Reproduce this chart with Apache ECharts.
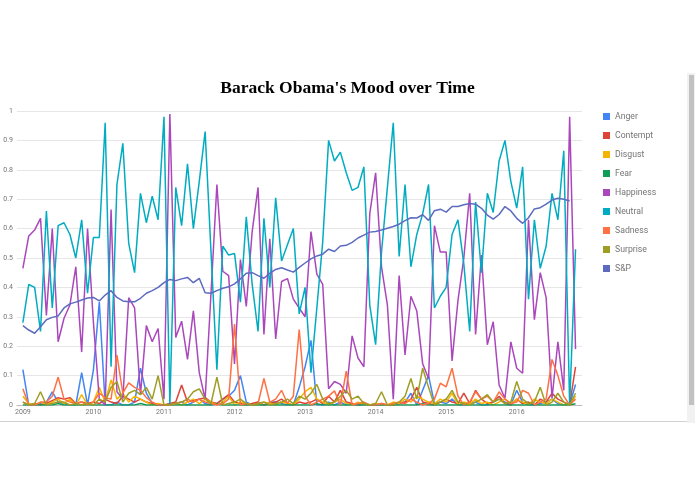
<!DOCTYPE html>
<html><head><meta charset="utf-8">
<script src="https://cdn.jsdelivr.net/npm/echarts@6/dist/echarts.min.js"></script>
<style>html,body{margin:0;padding:0;background:#fff;overflow:hidden}#c{width:695px;height:494px}</style>
</head><body><div id="c"></div>
<script>
const months = [
 '2009-01','2009-02','2009-03','2009-04','2009-05','2009-06','2009-07','2009-08','2009-09','2009-10','2009-11','2009-12',
 '2010-01','2010-02','2010-03','2010-04','2010-05','2010-06','2010-07','2010-08','2010-09','2010-10','2010-11','2010-12',
 '2011-01','2011-02','2011-03','2011-04','2011-05','2011-06','2011-07','2011-08','2011-09','2011-10','2011-11','2011-12',
 '2012-01','2012-02','2012-03','2012-04','2012-05','2012-06','2012-07','2012-08','2012-09','2012-10','2012-11','2012-12',
 '2013-01','2013-02','2013-03','2013-04','2013-05','2013-06','2013-07','2013-08','2013-09','2013-10','2013-11','2013-12',
 '2014-01','2014-02','2014-03','2014-04','2014-05','2014-06','2014-07','2014-08','2014-09','2014-10','2014-11','2014-12',
 '2015-01','2015-02','2015-03','2015-04','2015-05','2015-06','2015-07','2015-08','2015-09','2015-10','2015-11','2015-12',
 '2016-01','2016-02','2016-03','2016-04','2016-05','2016-06','2016-07','2016-08','2016-09','2016-10','2016-11'
];
const yearTicks = ['2009','2010','2011','2012','2013','2014','2015','2016'];
const seriesNames = ['Anger','Contempt','Disgust','Fear','Happiness','Neutral','Sadness','Surprise','S&P'];

const anger = [
 0.12,0,0,0.005,0.01,0.045,0.01,0.005,0,0,0.11,0,
 0.12,0.35,0,0,0.01,0,0,0.01,0.125,0.04,0.005,0,
 0,0,0.005,0.01,0,0.01,0.02,0.005,0,0.005,0.02,0.03,
 0.05,0.10,0.01,0,0.005,0,0.01,0.01,0.005,0,0,0.06,
 0.13,0.22,0,0,0.01,0,0.01,0,0.005,0,0,0,
 0,0,0,0,0.005,0.01,0.04,0,0.05,0.10,0.005,0.01,
 0.005,0.02,0,0,0.005,0.01,0,0,0.01,0.02,0.01,0,
 0.05,0.01,0,0,0.005,0.01,0.02,0.005,0,0,0.07
];
const contempt = [
 0.01,0,0.005,0,0.005,0.015,0.025,0.02,0.025,0.005,0.01,0.005,
 0.01,0.005,0.02,0.01,0.005,0.03,0.02,0.01,0.02,0.01,0.005,0,
 0,0.005,0.01,0.068,0.01,0.015,0.02,0.025,0.01,0.005,0.02,0.035,
 0.01,0.005,0,0.005,0.01,0,0.005,0.01,0.02,0.005,0,0.01,
 0.005,0.01,0.02,0.005,0.03,0.01,0.05,0.01,0.005,0,0.005,0,
 0,0.005,0,0,0.005,0.01,0.02,0.06,0.01,0.005,0,0.01,
 0.02,0.01,0.005,0.04,0.005,0.05,0.02,0.005,0.01,0.03,0.005,0,
 0.02,0.005,0.01,0,0.02,0.01,0.04,0.02,0.01,0,0.13
];
const disgust = [
 0.03,0.005,0,0.01,0,0.01,0.02,0.005,0.02,0,0.035,0,
 0.01,0.06,0.01,0.085,0.02,0.04,0.01,0.03,0.02,0.01,0,0.005,
 0,0,0.005,0,0.01,0.02,0.005,0.02,0.01,0,0.01,0.03,
 0,0.01,0.005,0,0,0.01,0.005,0,0.01,0.005,0,0.02,
 0.045,0.06,0.02,0.01,0,0.01,0.02,0.005,0,0.01,0,0,
 0.005,0,0,0.01,0.005,0.02,0.01,0.03,0.02,0.01,0.005,0.02,
 0.01,0.04,0,0.01,0.005,0.02,0.005,0.01,0,0.01,0.02,0.005,
 0.02,0.01,0,0.02,0.01,0.005,0.02,0.01,0,0,0.03
];
const fear = [
 0,0,0,0,0,0,0.005,0,0,0,0,0,
 0,0,0,0,0,0,0,0,0.005,0,0,0,
 0,0,0,0,0,0,0,0,0,0.003,0,0,
 0,0,0,0,0,0,0,0,0,0,0,0,
 0,0,0.004,0,0,0,0,0,0,0,0,0,
 0,0,0,0,0,0,0,0,0.004,0,0,0,
 0,0,0,0,0,0,0,0,0,0,0,0,
 0,0,0,0,0,0,0,0,0,0,0.004
];
const happiness = [
 0.465,0.575,0.595,0.635,0.305,0.60,0.215,0.295,0.34,0.47,0.18,0.60,
 0.28,0.02,0.0,0.665,0.045,0.02,0.365,0.33,0.035,0.27,0.215,0.26,
 0.02,0.99,0.23,0.285,0.155,0.32,0.11,0.02,0.38,0.75,0.455,0.44,
 0.14,0.495,0.335,0.59,0.74,0.24,0.565,0.225,0.42,0.43,0.36,0.33,
 0.30,0.59,0.445,0.41,0.055,0.08,0.07,0.04,0.235,0.16,0.13,0.65,
 0.79,0.47,0.34,0.02,0.44,0.17,0.37,0.32,0.14,0.09,0.61,0.52,
 0.52,0.15,0.355,0.50,0.72,0.24,0.51,0.205,0.283,0.068,0.023,0.215,
 0.125,0.108,0.63,0.29,0.45,0.365,0.023,0.215,0.05,0.98,0.19
];
const neutral = [
 0.28,0.41,0.40,0.25,0.66,0.33,0.61,0.62,0.58,0.50,0.63,0.38,
 0.57,0.57,0.96,0.13,0.75,0.89,0.55,0.45,0.72,0.62,0.71,0.63,
 0.98,0.0,0.74,0.61,0.82,0.60,0.76,0.93,0.52,0.12,0.54,0.51,
 0.515,0.35,0.64,0.41,0.25,0.635,0.40,0.705,0.49,0.545,0.60,0.31,
 0.40,0.11,0.33,0.555,0.90,0.83,0.86,0.79,0.73,0.74,0.81,0.34,
 0.205,0.52,0.74,0.96,0.505,0.75,0.47,0.58,0.65,0.75,0.33,0.37,
 0.40,0.58,0.63,0.48,0.25,0.69,0.45,0.72,0.655,0.83,0.90,0.76,
 0.67,0.81,0.36,0.63,0.465,0.54,0.72,0.63,0.865,0.0,0.53
];
const sadness = [
 0.055,0,0,0.01,0.01,0.03,0.095,0.02,0.01,0.005,0.01,0,
 0.01,0.04,0.025,0.02,0.17,0.04,0.075,0.06,0.05,0.025,0.01,0,
 0,0,0.005,0.01,0.02,0.01,0.02,0.01,0.005,0,0.005,0.02,
 0.275,0,0.005,0,0.005,0.09,0.01,0.02,0.05,0.005,0.03,0.257,
 0.03,0,0.01,0.02,0.03,0.048,0,0.115,0,0.005,0.01,0,
 0,0.005,0,0.005,0.01,0.005,0.02,0.01,0,0.005,0.02,0.074,
 0.062,0.125,0.03,0,0.01,0.045,0.02,0.03,0.01,0.045,0.02,0.005,
 0.01,0.05,0.04,0,0.01,0.02,0.155,0.10,0.03,0,0.02
];
const surprise = [
 0.01,0,0.005,0.045,0,0.005,0.01,0.01,0,0.005,0,0.005,
 0,0.02,0.01,0.06,0.08,0.01,0.04,0.05,0.035,0.06,0.02,0.10,
 0,0,0.005,0.01,0.02,0.045,0.055,0.02,0.005,0.095,0,0.005,
 0.01,0.02,0.005,0,0.005,0.01,0,0.005,0.01,0.02,0.005,0.03,
 0.02,0.04,0.07,0.02,0.005,0.01,0.03,0.05,0.02,0.03,0.005,0,
 0.005,0.045,0,0,0.01,0.03,0.09,0.02,0.125,0.06,0,0.01,
 0.02,0.05,0.01,0.005,0,0.01,0.02,0.035,0.01,0.02,0.005,0.01,
 0.08,0.02,0.005,0.01,0.06,0,0.01,0.04,0.01,0,0.04
];
const sp = [
 0.27,0.255,0.244,0.266,0.29,0.298,0.303,0.33,0.344,0.35,0.357,0.364,
 0.366,0.354,0.374,0.389,0.366,0.354,0.351,0.351,0.363,0.38,0.389,0.40,
 0.416,0.427,0.423,0.429,0.434,0.416,0.431,0.382,0.38,0.389,0.397,0.402,
 0.412,0.429,0.448,0.45,0.44,0.431,0.448,0.461,0.467,0.459,0.452,0.468,
 0.483,0.497,0.507,0.513,0.53,0.522,0.541,0.543,0.553,0.568,0.578,0.588,
 0.59,0.595,0.601,0.607,0.615,0.627,0.637,0.636,0.647,0.628,0.661,0.666,
 0.656,0.675,0.675,0.681,0.685,0.683,0.669,0.646,0.632,0.648,0.675,0.66,
 0.635,0.618,0.637,0.667,0.671,0.683,0.697,0.703,0.70,0.694,null
];
const colors = ['#4285f4','#db4437','#f4b400','#0f9d58','#ab47bc','#00acc1','#ff7043','#9e9d24','#5c6bc0'];
const values = [anger, contempt, disgust, fear, happiness, neutral, sadness, surprise, sp];

// month string -> months since Jan 2009
function mIdx(s){ const p = s.split('-'); return (+p[0]-2009)*12 + (+p[1]-1); }
const tickPos = yearTicks.map(y => mIdx(y + '-01'));

const chart = echarts.init(document.getElementById('c'), null, {renderer:'canvas'});
chart.setOption({
  animation: false,
  backgroundColor: '#fff',
  color: colors,
  title: {
    text: "Barack Obama's Mood over Time",
    left: 'center', top: 74,
    textStyle: {fontFamily: '"Liberation Serif","Times New Roman",serif', fontWeight: 'bold', fontSize: 17.5, color: '#000'}
  },
  legend: {
    orient: 'vertical', left: 598, top: 106,
    itemWidth: 7, itemHeight: 7, itemGap: 8, icon: 'rect',
    data: seriesNames,
    textStyle: {fontFamily: 'Roboto, sans-serif', fontSize: 8.7, color: '#757575', lineHeight: 11, padding: [0,0,0,0]},
  },
  grid: {left: 17, top: 111, width: 565, height: 294, containLabel: false},
  xAxis: {
    type: 'value', min: -1, max: 95.1,
    axisLine: {show: true, lineStyle: {color: '#bdbdbd', width: 1}},
    axisTick: {show: false},
    splitLine: {show: false},
    axisLabel: {
      customValues: tickPos,
      formatter: v => String(2009 + Math.round(v) / 12),
      fontFamily: 'Roboto, sans-serif', fontSize: 7, color: '#757575', margin: 4
    }
  },
  yAxis: {
    type: 'value', min: 0, max: 1, interval: 0.1,
    axisLine: {show: false}, axisTick: {show: false},
    splitLine: {lineStyle: {color: '#e6e6e6', width: 1}},
    axisLabel: {fontFamily: 'Roboto, sans-serif', fontSize: 7, color: '#757575', margin: 4,
      formatter: v => String(Math.round(v*10)/10)}
  },
  series: seriesNames.map((n, k) => ({
    name: n, type: 'line', showSymbol: false, symbol: 'none',
    lineStyle: {width: 1.5, color: colors[k]},
    itemStyle: {color: colors[k]},
    data: months.map((m, i) => [mIdx(m), values[k][i]]),
    z: 2 + k
  })),
  graphic: [
    {type: 'rect', shape: {x: 687, y: 73, width: 8, height: 350}, style: {fill: '#f1f1f1'}, silent: true},
    {type: 'rect', shape: {x: 689, y: 75, width: 5, height: 330}, style: {fill: '#c1c1c1'}, silent: true},
    {type: 'line', shape: {x1: 0, y1: 421.5, x2: 687, y2: 421.5}, style: {stroke: '#d0d0d0', lineWidth: 1}, silent: true}
  ]
});
</script>
</body></html>
